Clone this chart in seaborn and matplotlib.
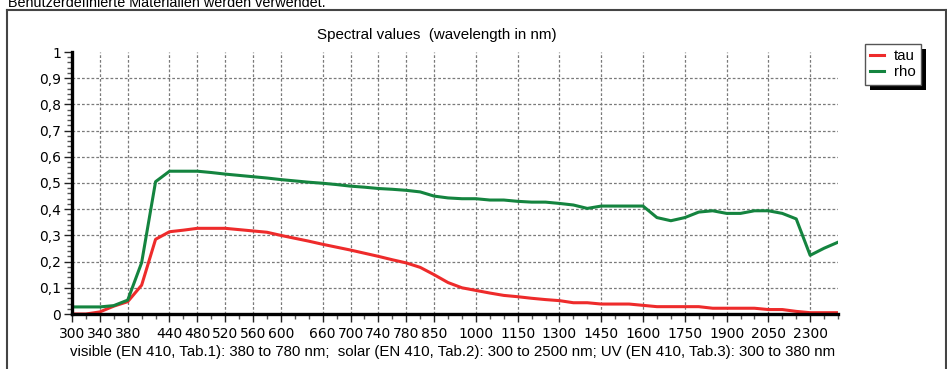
import numpy as np
import pandas as pd
import matplotlib
matplotlib.use("Agg")
import matplotlib.pyplot as plt
import seaborn as sns
from matplotlib.patches import Rectangle
from matplotlib.lines import Line2D

# ---- data -------------------------------------------------------------
wavelengths = (list(range(300, 800, 20)) + list(range(800, 2150, 50))
               + [2200, 2300, 2400, 2500])
tau = [0.0, 0.0, 0.008, 0.03, 0.047, 0.11, 0.285, 0.314, 0.32, 0.327,
       0.327, 0.327, 0.322, 0.317, 0.312, 0.30, 0.289, 0.278, 0.266, 0.255,
       0.244, 0.232, 0.22, 0.207, 0.195, 0.178, 0.15, 0.12, 0.10, 0.09,
       0.08, 0.071, 0.066, 0.06, 0.055, 0.051, 0.043, 0.043, 0.038, 0.038,
       0.038, 0.033, 0.028, 0.028, 0.028, 0.028, 0.022, 0.022, 0.022, 0.022,
       0.017, 0.017, 0.010, 0.005, 0.005, 0.005]
rho = [0.027, 0.027, 0.027, 0.032, 0.053, 0.196, 0.505, 0.545, 0.545, 0.545,
       0.54, 0.534, 0.529, 0.524, 0.519, 0.513, 0.508, 0.503, 0.499, 0.494,
       0.488, 0.484, 0.479, 0.476, 0.472, 0.466, 0.45, 0.443, 0.44, 0.44,
       0.435, 0.435, 0.43, 0.427, 0.427, 0.422, 0.416, 0.403, 0.412, 0.412,
       0.412, 0.412, 0.368, 0.356, 0.368, 0.389, 0.394, 0.384, 0.384, 0.394,
       0.394, 0.384, 0.363, 0.224, 0.251, 0.274]
tick_labels = [300, 340, 380, 440, 480, 520, 560, 600, 660, 700, 740, 780,
               850, 1000, 1150, 1300, 1450, 1600, 1750, 1900, 2050, 2300]
series_names = ["tau", "rho"]
series_colors = ["#ee2b2b", "#14843f"]

# ---- build long table --------------------------------------------------
idx = np.arange(len(wavelengths))
df = pd.concat([
    pd.DataFrame({"idx": idx, "value": tau, "series": "tau"}),
    pd.DataFrame({"idx": idx, "value": rho, "series": "rho"}),
])

W, H = 947, 369
fig = plt.figure(figsize=(W / 100, H / 100), dpi=100)
fig.patch.set_facecolor("white")

def fx(px):
    return px / W

def fy(py):
    return 1 - py / H

ax = fig.add_axes([fx(72), fy(314), fx(838) - fx(72), fy(52) - fy(314)])

sns.lineplot(data=df, x="idx", y="value", hue="series",
             palette=dict(zip(series_names, series_colors)),
             linewidth=2.2, ax=ax, legend=False, zorder=3)

ax.set_xlim(0, len(wavelengths) - 1)
ax.set_ylim(0, 1)
ax.set_xlabel("")
ax.set_ylabel("")

# grid
grid_kw = dict(color="#7a7a7a", linewidth=0.9, linestyle=(0, (2.2, 1.6)), zorder=1)
for v in np.arange(0.1, 0.95, 0.1):
    ax.axhline(v, **grid_kw)
major_pos = [wavelengths.index(t) for t in tick_labels]
for p in major_pos[1:]:
    ax.axvline(p, **grid_kw)

# ticks
ax.set_xticks(major_pos)
ax.set_xticklabels([str(t) for t in tick_labels])
ax.set_xticks(idx, minor=True)
yt = np.round(np.arange(0, 1.01, 0.1), 1)
ax.set_yticks(yt)
ax.set_yticklabels(["0" if v == 0 else ("1" if v == 1 else f"{v:.1f}".replace(".", ",")) for v in yt])
ax.set_yticks(np.arange(0, 1.001, 0.02), minor=True)
ax.tick_params(axis="both", which="major", direction="out", length=6, width=1,
               color="#222222", labelsize=10, pad=2)
ax.tick_params(axis="both", which="minor", direction="out", length=3.5, width=1,
               color="#555555")
ax.tick_params(axis="x", which="major", pad=3)
for lab in ax.get_xticklabels() + ax.get_yticklabels():
    lab.set_fontfamily("DejaVu Sans")

for s in ["top", "right"]:
    ax.spines[s].set_visible(False)
for s in ["left", "bottom"]:
    ax.spines[s].set_linewidth(2.4)
    ax.spines[s].set_color("black")
    ax.spines[s].set_zorder(4)

# texts
fig.text(fx(437), fy(35), "Spectral values  (wavelength in nm)", ha="center",
         va="center", fontsize=10.9, family="Liberation Sans")
fig.text(fx(453), fy(352),
         "visible (EN 410, Tab.1): 380 to 780 nm;  solar (EN 410, Tab.2): 300 to 2500 nm; UV (EN 410, Tab.3): 300 to 380 nm",
         ha="center", va="center", fontsize=10.8, family="Liberation Sans")
fig.text(fx(8), fy(7), "Benutzerdefinierte Materialien werden verwendet.",
         ha="left", va="baseline", fontsize=10.4, family="Liberation Sans")

# outer frame
frame_kw = dict(color="#444444", linewidth=1.5)
fig.add_artist(Line2D([fx(7), fx(7)], [fy(10), 0], transform=fig.transFigure, **frame_kw))
fig.add_artist(Line2D([fx(7), 1], [fy(10), fy(10)], transform=fig.transFigure, **frame_kw))
fig.add_artist(Line2D([fx(945.5), fx(945.5)], [fy(10), 0], transform=fig.transFigure, **frame_kw))

# legend
handles = [Line2D([], [], color=c, linewidth=2.2) for c in series_colors]
leg = fig.legend(handles, series_names, loc="upper left",
                 bbox_to_anchor=(fx(865), fy(44)), frameon=True, fancybox=False,
                 handlelength=0.9, handletextpad=0.7, borderpad=0.35,
                 labelspacing=0.15, borderaxespad=0,
                 prop={"family": "Liberation Sans", "size": 10.8})
leg.get_frame().set_edgecolor("#555555")
leg.get_frame().set_linewidth(1.0)
leg.get_frame().set_facecolor("white")
leg.get_frame().set_alpha(1)
leg.set_zorder(10)

fig.canvas.draw()
bb = leg.get_window_extent()
shadow = Rectangle((bb.x0 + 5, bb.y0 - 5), bb.width, bb.height,
                   transform=None, facecolor="black", edgecolor="none", zorder=9)
fig.add_artist(shadow)

fig.savefig("out.png", dpi=100)
